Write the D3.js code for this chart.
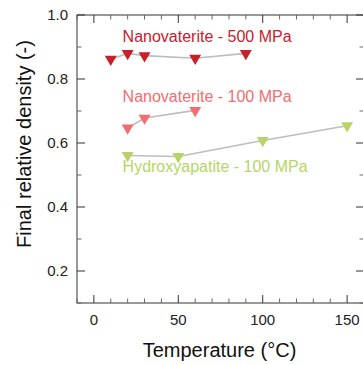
<!DOCTYPE html>
<html>
<head>
<meta charset="utf-8">
<script src="https://cdn.jsdelivr.net/npm/d3@7"></script>
<style>
  body { margin: 0; background: #fff; }
  svg { display: block; font-family: "Liberation Sans", Arial, sans-serif; }
</style>
</head>
<body>
<svg id="chart"></svg>
<script>
// data
const seriesNames = ["Nanovaterite - 500 MPa", "Nanovaterite - 100 MPa", "Hydroxyapatite - 100 MPa"];
const temp500 = [10, 20, 30, 60, 90];
const dens500 = [0.862, 0.880, 0.873, 0.865, 0.880];
const temp100 = [20, 30, 60];
const dens100 = [0.647, 0.678, 0.702];
const tempHap = [20, 50, 100, 150];
const densHap = [0.561, 0.558, 0.608, 0.654];
const xTicks = [0, 50, 100, 150];
const yTicks = [0.2, 0.4, 0.6, 0.8, 1.0];

const colors = ["#c8202b", "#f26d70", "#b6d566"];
// where each series label sits (data units)
const labelAt = [[17, 0.917], [17, 0.728], [17, 0.509]];

const width = 363, height = 365;
const margin = { top: 15, right: -1, bottom: 62, left: 77 };
const svg = d3.select("#chart").attr("width", width).attr("height", height);

const x = d3.scaleLinear().domain([-10, 160]).range([margin.left, width - margin.right]);
const y = d3.scaleLinear().domain([0.1, 1.0]).range([height - margin.bottom, margin.top]);

const series = [
  { name: seriesNames[0], t: temp500, d: dens500 },
  { name: seriesNames[1], t: temp100, d: dens100 },
  { name: seriesNames[2], t: tempHap, d: densHap },
].map((s, i) => ({ ...s, color: colors[i], label: labelAt[i],
  pts: s.t.map((t, j) => ({ t, d: s.d[j] })) }));

const axisColor = "#333";
const x0 = x.range()[0], x1 = x.range()[1], y0 = y.range()[0], y1 = y.range()[1];

// frame
svg.append("rect")
  .attr("x", x0).attr("y", y1).attr("width", x1 - x0).attr("height", y0 - y1)
  .attr("fill", "none").attr("stroke", axisColor).attr("stroke-width", 1);

const xMinor = d3.range(-10, 161, 10).filter(v => v % 50 !== 0);
const yMinor = d3.range(1, 10).map(v => v / 10).filter(v => Math.round(v * 10) % 2 === 1);

const ticks = svg.append("g").attr("stroke", axisColor).attr("stroke-width", 1);
// x ticks bottom and top, pointing inward
xTicks.forEach(v => {
  ticks.append("line").attr("x1", x(v)).attr("x2", x(v)).attr("y1", y0).attr("y2", y0 - 8);
  ticks.append("line").attr("x1", x(v)).attr("x2", x(v)).attr("y1", y1).attr("y2", y1 + 8);
});
xMinor.forEach(v => {
  ticks.append("line").attr("x1", x(v)).attr("x2", x(v)).attr("y1", y0).attr("y2", y0 - 4.5).attr("stroke", "#666");
  ticks.append("line").attr("x1", x(v)).attr("x2", x(v)).attr("y1", y1).attr("y2", y1 + 4.5).attr("stroke", "#666");
});
yTicks.forEach(v => {
  ticks.append("line").attr("x1", x0).attr("x2", x0 + 8).attr("y1", y(v)).attr("y2", y(v));
  ticks.append("line").attr("x1", x1).attr("x2", x1 - 8).attr("y1", y(v)).attr("y2", y(v));
});
yMinor.forEach(v => {
  ticks.append("line").attr("x1", x0).attr("x2", x0 + 4.5).attr("y1", y(v)).attr("y2", y(v)).attr("stroke", "#666");
  ticks.append("line").attr("x1", x1).attr("x2", x1 - 4.5).attr("y1", y(v)).attr("y2", y(v)).attr("stroke", "#666");
});

// tick labels
svg.append("g").selectAll("text").data(xTicks).join("text")
  .attr("x", d => x(d)).attr("y", y0 + 22)
  .attr("text-anchor", "middle").attr("font-size", 15).attr("fill", "#222")
  .text(d => d);
svg.append("g").selectAll("text").data(yTicks).join("text")
  .attr("x", x0 - 9).attr("y", d => y(d)).attr("dy", "0.36em")
  .attr("text-anchor", "end").attr("font-size", 15).attr("fill", "#222")
  .text(d => d3.format(".1f")(d));

// axis titles
svg.append("text")
  .attr("x", (x0 + x1) / 2 - 1).attr("y", 357)
  .attr("text-anchor", "middle").attr("font-size", 20).attr("fill", "#111")
  .text("Temperature (°C)");
svg.append("text")
  .attr("transform", "translate(31,144) rotate(-90)")
  .attr("text-anchor", "middle").attr("font-size", 20).attr("fill", "#111")
  .text("Final relative density (-)");

// lines + markers
const line = d3.line().x(p => x(p.t)).y(p => y(p.d));
const tri = "M-6,-3.4L6,-3.4L0,6.8Z";

const g = svg.append("g");
series.forEach(s => {
  g.append("path").datum(s.pts)
    .attr("d", line).attr("fill", "none")
    .attr("stroke", "#bdbdbd").attr("stroke-width", 1.6);
});
series.forEach(s => {
  g.append("g").selectAll("path").data(s.pts).join("path")
    .attr("transform", p => `translate(${x(p.t)},${y(p.d)})`)
    .attr("d", tri).attr("fill", s.color);
  g.append("text")
    .attr("x", x(s.label[0])).attr("y", y(s.label[1]))
    .attr("font-size", 16).attr("fill", s.color)
    .text(s.name);
});
</script>
</body>
</html>
